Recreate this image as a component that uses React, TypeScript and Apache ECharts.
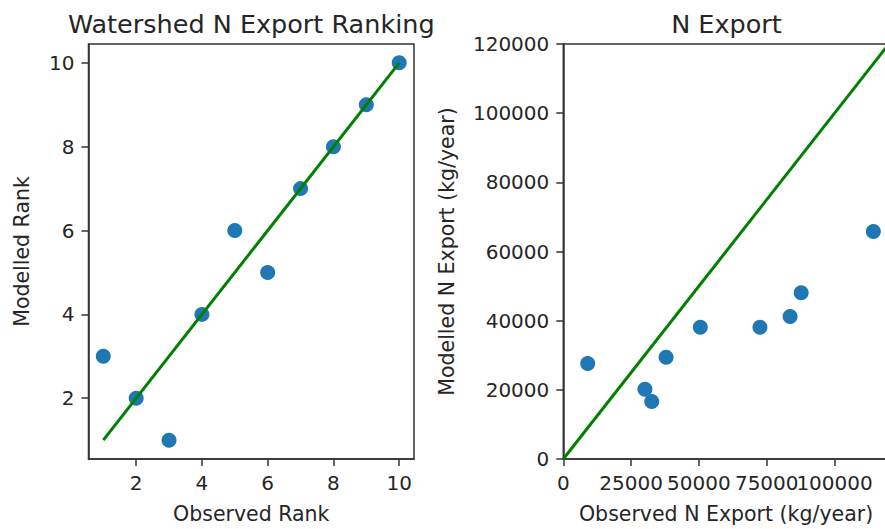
import React, { useEffect, useRef } from "react";
import * as echarts from "echarts";

const rankObserved = [1, 2, 3, 4, 5, 6, 7, 8, 9, 10];
const rankModelled = [3, 2, 1, 4, 6, 5, 7, 8, 9, 10];
const rankLine = [1, 10];
const rankTicks = [2, 4, 6, 8, 10];

const exportObserved = [9000, 30100, 32600, 37900, 50500, 72500, 83600, 87700, 114300];
const exportModelled = [27600, 20200, 16600, 29400, 38100, 38100, 41200, 48100, 65800];
const exportLine = [0, 120000];

const TEXT = "#262626";
const LINE = "#333333";
const FONT = "DejaVu Sans";
const BLUE = "#1f77b4";
const GREEN = "#008000";

export default function App() {
  const ref = useRef<HTMLDivElement>(null);
  useEffect(() => {
    if (!ref.current) return;
    const chart = echarts.init(ref.current, null, { renderer: "svg" });
    const axisCommon = {
      axisLine: { show: true, onZero: false, lineStyle: { color: LINE, width: 1.5 } },
      axisTick: { show: true, length: 7, lineStyle: { color: LINE, width: 1.5 } },
      splitLine: { show: false },
      nameTextStyle: { color: TEXT, fontFamily: FONT, fontSize: 20.5 },
    };
    const labelCommon = { color: TEXT, fontFamily: FONT, fontSize: 20, margin: 14, formatter: (v: number) => String(v) };
    chart.setOption({
      animation: false,
      backgroundColor: "#ffffff",
      grid: [
        { left: 88.5, top: 44, width: 325.5, height: 417, show: true, borderColor: LINE, borderWidth: 1.5, backgroundColor: "transparent" },
        { left: 563.3, top: 44, width: 325.5, height: 417, show: true, borderColor: LINE, borderWidth: 1.5, backgroundColor: "transparent" },
      ],
      xAxis: [
        {
          type: "value", gridIndex: 0, min: 0.55, max: 10.45,
          name: "Observed Rank", nameLocation: "middle", nameGap: 44,
          ...axisCommon,
          axisTick: { ...axisCommon.axisTick, customValues: rankTicks },
          axisLabel: { ...labelCommon, customValues: rankTicks },
        },
        {
          type: "value", gridIndex: 1, min: 0, max: 120000, interval: 25000,
          name: "Observed N Export (kg/year)", nameLocation: "middle", nameGap: 44,
          ...axisCommon,
          axisLabel: { ...labelCommon },
        },
      ],
      yAxis: [
        {
          type: "value", gridIndex: 0, min: 0.55, max: 10.45,
          name: "Modelled Rank", nameLocation: "middle", nameGap: 56,
          ...axisCommon,
          axisTick: { ...axisCommon.axisTick, customValues: rankTicks },
          axisLabel: { ...labelCommon, customValues: rankTicks },
        },
        {
          type: "value", gridIndex: 1, min: 0, max: 120000, interval: 20000,
          name: "Modelled N Export (kg/year)", nameLocation: "middle", nameGap: 106,
          ...axisCommon,
          axisLabel: { ...labelCommon },
        },
      ],
      graphic: [
        { type: "text", x: 251.25, y: 23.5, style: { text: "Watershed N Export Ranking", fontSize: 25.5, fontFamily: FONT, fill: TEXT, align: "center", verticalAlign: "middle" } },
        { type: "text", x: 726.5, y: 23.5, style: { text: "N Export", fontSize: 25.5, fontFamily: FONT, fill: TEXT, align: "center", verticalAlign: "middle" } },
      ],
      series: [
        {
          type: "scatter", xAxisIndex: 0, yAxisIndex: 0, symbolSize: 15,
          itemStyle: { color: BLUE, opacity: 1 },
          data: rankObserved.map((x, i) => [x, rankModelled[i]]),
        },
        {
          type: "line", xAxisIndex: 0, yAxisIndex: 0, showSymbol: false, symbol: "none",
          lineStyle: { color: GREEN, width: 3 },
          data: rankLine.map((v) => [v, v]),
        },
        {
          type: "scatter", xAxisIndex: 1, yAxisIndex: 1, symbolSize: 15,
          itemStyle: { color: BLUE, opacity: 1 },
          data: exportObserved.map((x, i) => [x, exportModelled[i]]),
        },
        {
          type: "line", xAxisIndex: 1, yAxisIndex: 1, showSymbol: false, symbol: "none",
          lineStyle: { color: GREEN, width: 3 },
          data: exportLine.map((v) => [v, v]),
        },
      ],
    });
    return () => chart.dispose();
  }, []);
  return (
    <div style={{ position: "fixed", left: 0, top: 0, width: 885, height: 529, overflow: "hidden", background: "#fff" }}>
      <div ref={ref} style={{ width: 900, height: 529 }} />
    </div>
  );
}
